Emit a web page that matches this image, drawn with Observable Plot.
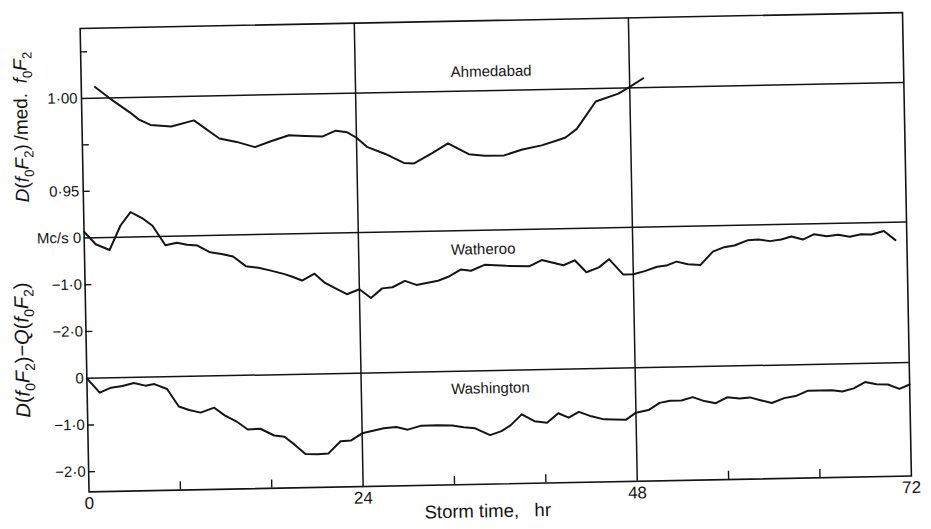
<!DOCTYPE html>
<html>
<head>
<meta charset="utf-8">
<script src="https://cdn.jsdelivr.net/npm/d3@7"></script>
<script src="https://cdn.jsdelivr.net/npm/@observablehq/plot@0.6"></script>
<style>
  html, body { margin: 0; padding: 0; background: #fff; }
  #chart {
    position: relative; width: 931px; height: 529px;
    transform: rotate(-1.1deg); transform-origin: 495px 251px;
  }
  #chart svg { position: absolute; left: 0; top: 0; }
</style>
</head>
<body>
<div id="chart"></div>
<script>
// Storm-time variation of the F2 critical frequency at three stations.

// Ahmedabad: ratio D(foF2) / median foF2
const ahmedabadHour = [1.2, 2.5, 4.2, 5.0, 6.0, 7.8, 9.8, 12.0, 13.5, 15.1, 16.5, 18.1, 19.5, 21.0, 22.2, 23.2, 24.0, 24.9, 26.5, 28.1, 29.0, 30.6, 32.0, 33.8, 35.2, 36.9, 38.5, 40.2, 41.8, 42.3, 43.3, 45.0, 47.0, 48.0, 49.2];
const ahmedabadRatio = [1.006, 0.9996, 0.992, 0.988, 0.985, 0.984, 0.987, 0.977, 0.975, 0.972, 0.975, 0.978, 0.9775, 0.977, 0.980, 0.979, 0.976, 0.971, 0.967, 0.962, 0.9616, 0.967, 0.972, 0.966, 0.965, 0.965, 0.968, 0.970, 0.973, 0.974, 0.9785, 0.993, 0.997, 1.0005, 1.005];

// Watheroo: D(foF2) - Q(foF2), Mc/s
const watherooHour = [0, 1.0, 2.2, 3.2, 4.1, 5.1, 6.0, 7.1, 8.1, 9.0, 9.9, 11.0, 12.0, 13.0, 14.1, 15.2, 16.2, 17.4, 18.1, 19.0, 20.1, 21.0, 22.0, 22.9, 24.0, 25.0, 26.0, 26.9, 28.0, 29.0, 30.9, 31.8, 32.9, 33.8, 35.0, 36.9, 38.9, 40.0, 41.9, 42.9, 43.9, 45.0, 45.9, 47.1, 48.0, 49.0, 50.1, 50.9, 51.8, 52.8, 53.9, 55.0, 56.0, 56.9, 58.1, 59.0, 60.0, 61.0, 61.9, 62.9, 63.9, 65.0, 66.0, 67.0, 68.0, 68.9, 70.0, 71.0];
const watherooDiff = [0.13, -0.14, -0.27, 0.25, 0.53, 0.40, 0.23, -0.19, -0.14, -0.19, -0.21, -0.36, -0.40, -0.46, -0.67, -0.71, -0.77, -0.85, -0.91, -1.00, -0.86, -1.06, -1.19, -1.31, -1.21, -1.40, -1.20, -1.18, -1.05, -1.14, -1.06, -0.98, -0.83, -0.86, -0.74, -0.77, -0.79, -0.66, -0.78, -0.68, -0.94, -0.84, -0.67, -1.00, -1.00, -0.94, -0.85, -0.83, -0.75, -0.81, -0.83, -0.55, -0.46, -0.43, -0.32, -0.31, -0.35, -0.32, -0.26, -0.33, -0.22, -0.27, -0.24, -0.29, -0.24, -0.25, -0.18, -0.38];

// Washington: D(foF2) - Q(foF2), Mc/s
const washingtonHour = [0, 1.1, 2.1, 3.1, 4.1, 5.1, 5.9, 7.0, 8.0, 8.9, 9.9, 11.1, 12.0, 13.0, 14.0, 15.1, 16.3, 17.2, 18.1, 19.0, 20.1, 21.0, 22.1, 23.0, 24.0, 25.9, 27.0, 28.0, 29.2, 30.6, 31.9, 32.9, 33.9, 35.2, 36.2, 37.0, 38.0, 39.1, 40.2, 41.2, 42.1, 43.0, 44.1, 45.2, 46.1, 47.1, 48.0, 49.1, 50.1, 51.0, 52.0, 53.0, 54.0, 55.0, 56.0, 57.1, 58.0, 59.0, 59.9, 61.0, 62.0, 63.1, 64.1, 65.2, 66.1, 67.1, 68.1, 69.1, 70.1, 71.1, 72.0];
const washingtonDiff = [0, -0.31, -0.21, -0.18, -0.12, -0.18, -0.15, -0.26, -0.64, -0.72, -0.78, -0.68, -0.85, -0.98, -1.16, -1.15, -1.30, -1.33, -1.51, -1.71, -1.72, -1.71, -1.45, -1.44, -1.29, -1.19, -1.17, -1.23, -1.15, -1.15, -1.16, -1.20, -1.23, -1.38, -1.30, -1.18, -0.95, -1.10, -1.14, -0.94, -1.04, -0.92, -1.02, -1.09, -1.10, -1.11, -0.96, -0.91, -0.76, -0.72, -0.72, -0.65, -0.74, -0.79, -0.67, -0.70, -0.68, -0.75, -0.81, -0.71, -0.67, -0.56, -0.56, -0.56, -0.59, -0.53, -0.40, -0.45, -0.46, -0.56, -0.47];

// Axis ticks and labels
const hourLabels = [0, 24, 48, 72];
const hourMinorTicks = [8, 16, 32, 40, 56, 64];
const hourGrid = [24, 48];
const ratioTicks = [0.95, 0.975, 1.025];
const ratioLabels = [0.95, 1.0];
const mcsTicks = [-1, -2];
const mcsLabels = [0, -1, -2];
const stations = ["Ahmedabad", "Watheroo", "Washington"];
const xTitle = "Storm time,\u00a0\u00a0 hr";

const ink = "#141414";
const toRows = (xs, ys) => xs.map((x, i) => ({hour: x, value: ys[i]}));

const base = {
  width: 931, height: 529,
  marginLeft: 84, marginRight: 24.5, marginTop: 20, marginBottom: 45.5,
  style: {background: "none", overflow: "visible", fontFamily: "'Liberation Sans', Arial, sans-serif", fontSize: "15px", color: ink},
};
const xScale = {domain: [0, 72]};
const tickLen = 0.6; // hours
const dotted = (d, digits) => (d < 0 ? "\u2212" : "") + Math.abs(d).toFixed(digits).replace(".", "\u00b7");

// Top panel: Ahmedabad ratio
const ratioPanel = Plot.plot({
  ...base,
  x: {...xScale, axis: null},
  y: {domain: [0.925, 1.0376], range: [229.5, 20]},
  marks: [
    Plot.frame({stroke: ink, strokeWidth: 1.6}),
    Plot.ruleX(hourGrid, {stroke: ink, strokeWidth: 1.5}),
    Plot.ruleY([1.0], {stroke: ink, strokeWidth: 1.5}),
    Plot.ruleY(ratioTicks, {x1: 0, x2: tickLen, stroke: ink, strokeWidth: 1.4}),
    Plot.axisY(ratioLabels, {tickSize: 0, tickPadding: 4, tickFormat: d => dotted(d, 2), fontSize: 15, label: null}),
    Plot.line(toRows(ahmedabadHour, ahmedabadRatio), {x: "hour", y: "value", stroke: ink, strokeWidth: 2}),
    Plot.text([stations[0]], {x: 35.9, y: 1.0102, text: d => d, fontSize: 15, fill: ink})
  ]
});

// Middle panel: Watheroo difference
const watherooPanel = Plot.plot({
  ...base,
  x: {...xScale, axis: null},
  y: {domain: [-3, 0], range: [370, 229.5]},
  marks: [
    Plot.ruleY([0], {stroke: ink, strokeWidth: 1.5}),
    Plot.ruleY(mcsTicks, {x1: 0, x2: tickLen, stroke: ink, strokeWidth: 1.4}),
    Plot.axisY(mcsLabels, {tickSize: 0, tickPadding: 3, tickFormat: d => d === 0 ? "Mc/s 0" : dotted(d, 1), fontSize: 15, label: null}),
    Plot.line(toRows(watherooHour, watherooDiff), {x: "hour", y: "value", stroke: ink, strokeWidth: 2}),
    Plot.text([stations[1]], {x: 34.9, y: -0.41, text: d => d, fontSize: 15, fill: ink})
  ]
});

// Bottom panel: Washington difference, with the time axis
const washingtonPanel = Plot.plot({
  ...base,
  x: xScale,
  y: {domain: [-2.43, 0], range: [483.5, 370]},
  marks: [
    Plot.ruleY([0], {stroke: ink, strokeWidth: 1.5}),
    Plot.ruleY(mcsTicks, {x1: 0, x2: tickLen, stroke: ink, strokeWidth: 1.4}),
    Plot.ruleX(hourMinorTicks, {y1: -2.43, y2: -2.25, stroke: ink, strokeWidth: 1.4}),
    Plot.axisY(mcsLabels, {tickSize: 0, tickPadding: 3, tickFormat: d => d === 0 ? "0" : dotted(d, 1), fontSize: 15, label: null}),
    Plot.axisX(hourLabels, {tickSize: 0, tickPadding: 5, fontSize: 17, label: null}),
    Plot.text([xTitle], {frameAnchor: "bottom", dx: -13, dy: 33, text: d => d, fontSize: 18.5, fill: ink}),
    Plot.line(toRows(washingtonHour, washingtonDiff), {x: "hour", y: "value", stroke: ink, strokeWidth: 2}),
    Plot.text([stations[2]], {x: 35.3, y: -0.38, text: d => d, fontSize: 15, fill: ink})
  ]
});

const chart = document.getElementById("chart");
chart.append(ratioPanel, watherooPanel, washingtonPanel);

// Rotated y-axis titles with italic symbols and subscripts
function yTitle(svg, cx, cy, parts, size) {
  const t = d3.select(svg).append("text")
    .attr("transform", `translate(${cx},${cy}) rotate(-90)`)
    .attr("text-anchor", "middle")
    .attr("dy", "0.35em")
    .attr("font-size", size)
    .attr("fill", ink);
  let shifted = false;
  for (const [s, kind] of parts) {
    const sp = t.append("tspan").text(s);
    if (kind === "i") sp.attr("font-style", "italic");
    if (kind === "sub") {
      sp.attr("font-size", size * 0.7).attr("dy", size * 0.28);
      shifted = true;
    } else if (shifted) {
      sp.attr("dy", -size * 0.28);
      shifted = false;
    }
  }
}
yTitle(ratioPanel, 23.4, 118, [
  ["D", "i"], ["(", ""], ["f", "i"], ["0", "sub"], ["F", "i"], ["2", "sub"], [")\u2009/med.\u2002", ""],
  ["f", "i"], ["0", "sub"], ["F", "i"], ["2", "sub"]
], 19);
yTitle(ratioPanel, 20.1, 341, [
  ["D", "i"], ["(", ""], ["f", "i"], ["0", "sub"], ["F", "i"], ["2", "sub"], [")\u2212", ""], ["Q", "i"], ["(", ""],
  ["f", "i"], ["0", "sub"], ["F", "i"], ["2", "sub"], [")", ""]
], 20);
</script>
</body>
</html>
